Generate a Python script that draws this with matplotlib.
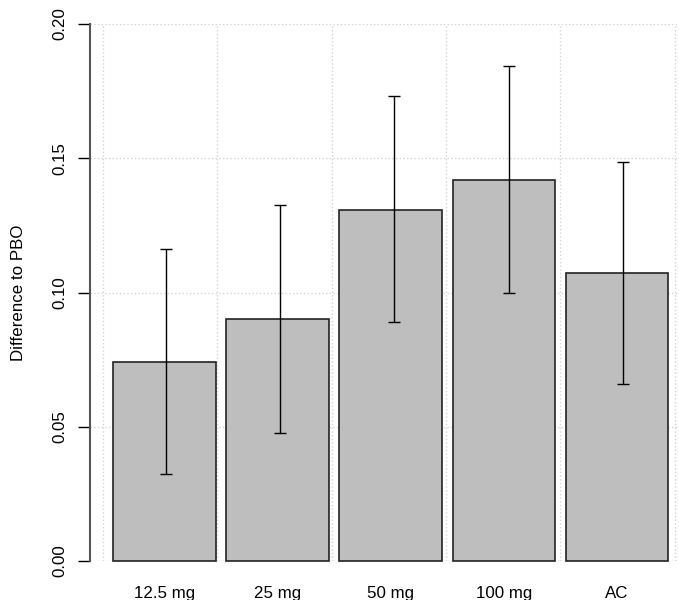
import matplotlib
matplotlib.use('agg')
import matplotlib.pyplot as plt
import numpy as np

plt.rcParams['font.family'] = ['Liberation Sans', 'DejaVu Sans']

groups = ['12.5 mg', '25 mg', '50 mg', '100 mg', 'AC']
diff = [0.0740, 0.0901, 0.1309, 0.1418, 0.1071]
lower = [0.0325, 0.0477, 0.0890, 0.0998, 0.0659]
upper = [0.1162, 0.1325, 0.1730, 0.1842, 0.1485]
yticks = [0.00, 0.05, 0.10, 0.15, 0.20]

fig = plt.figure(figsize=(6.79, 6.00), dpi=100)
ax = fig.add_axes([90 / 679, 39 / 600, 589 / 679, 537 / 600])

n = len(groups)
# barplot style layout: width 1, space 0.1
bar_x = 0.6 + 1.1 * np.arange(n)
# error bars / grid sit on a slightly wider spacing in the original
step = 1.112
err_x = 0.61 + step * np.arange(n)
grid_x = step * np.arange(6)

ax.set_xlim(-0.126, 5.603)
ax.set_ylim(0, 0.2)

for gx in grid_x:
    ax.axvline(gx, color='#d3d3d3', linestyle=':', linewidth=1, zorder=0)
for gy in yticks:
    ax.axhline(gy, color='#d3d3d3', linestyle=':', linewidth=1, zorder=0)

ax.bar(bar_x, diff, width=1.0, color='#bebebe', edgecolor='#222222',
       linewidth=1.2, zorder=2, clip_on=False)

d = np.array(diff)
yerr = [d - np.array(lower), np.array(upper) - d]
ax.errorbar(err_x, diff, yerr=yerr, fmt='none', ecolor='black',
            elinewidth=1, capsize=4.3, capthick=1, zorder=3, clip_on=False)

for s in ['top', 'right', 'bottom']:
    ax.spines[s].set_visible(False)
ax.spines['left'].set_color('#555555')
ax.spines['left'].set_linewidth(1.5)
ax.spines['left'].set_bounds(0, 0.2)

ax.set_yticks(yticks)
ax.set_yticklabels(['%.2f' % v for v in yticks], rotation=90, va='center',
                   fontsize=12.2)
ax.tick_params(axis='y', length=9, width=1, color='black', pad=7.5)

ax.set_xticks(bar_x)
ax.set_xticklabels(groups, fontsize=12.2)
ax.tick_params(axis='x', length=0, pad=18)

fig.text(19 / 679, 1 - 292.5 / 600, 'Difference to PBO', rotation=90,
         ha='center', va='center', fontsize=12.2)

plt.savefig('out.png', dpi=100)
